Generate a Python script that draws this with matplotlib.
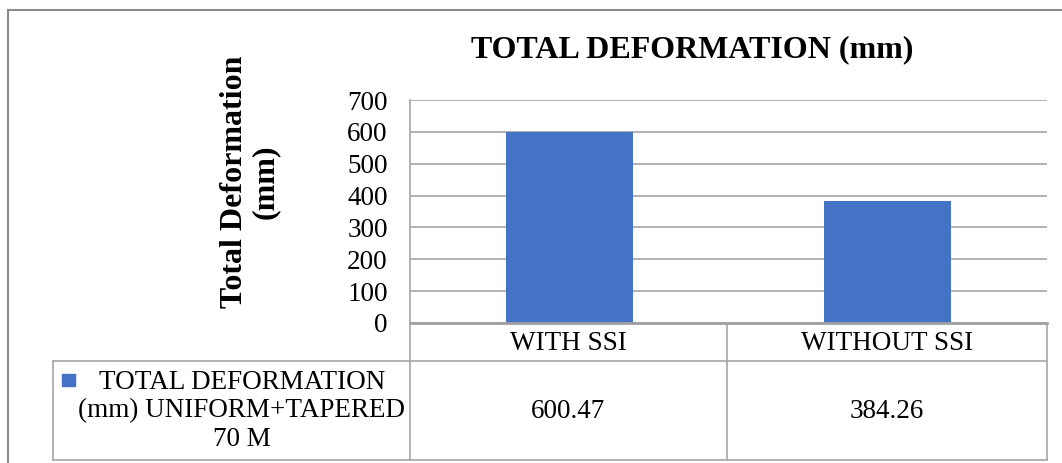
import matplotlib
matplotlib.use('Agg')
import matplotlib.pyplot as plt
from matplotlib.lines import Line2D
from matplotlib.patches import Rectangle

plt.rcParams['font.family'] = ['Liberation Serif', 'DejaVu Serif']

categories = ['WITH SSI', 'WITHOUT SSI']
values = [600.47, 384.26]
series_name = 'TOTAL DEFORMATION\n(mm) UNIFORM+TAPERED\n70 M'
title = 'TOTAL DEFORMATION (mm)'
ylabel = 'Total Deformation\n(mm)'
yticks = [0, 100, 200, 300, 400, 500, 600, 700]

W, H = 1062, 463
bar_color = '#4472C4'
grid_color = '#a6a6a6'
fs = 19.5

fig = plt.figure(figsize=(W / 100, H / 100), dpi=100)

def fx(px):
    return px / W

def fy(py):
    return 1 - py / H

# plot area in pixels
x0, x1, y0, y1 = 410, 1047, 100, 323
ax = fig.add_axes([fx(x0), fy(y1), fx(x1) - fx(x0), fy(y0) - fy(y1)])
ax.bar(range(len(values)), values, width=0.4, color=bar_color, zorder=3)
ax.set_xlim(-0.5, len(values) - 0.5)
ax.set_ylim(0, 700)
ax.set_yticks(yticks)
ax.set_xticks([])
ax.tick_params(axis='y', length=0, labelsize=fs, pad=16)
ax.yaxis.grid(True, color=grid_color, linewidth=1.2, zorder=0)
for s in ['top', 'right']:
    ax.spines[s].set_visible(False)
ax.spines['left'].set_color(grid_color)
ax.spines['left'].set_linewidth(1.2)
ax.spines['bottom'].set_color('#8c8c8c')
ax.spines['bottom'].set_linewidth(1.8)

fig.text(fx(692), fy(50), title, ha='center', va='center', fontsize=23, fontweight='bold')
fig.text(fx(250), fy(182), ylabel, ha='center', va='center', rotation=90,
         fontsize=23, fontweight='bold', linespacing=1.05)

# data table under the plot
col_edges = [x0, 727, x1]
row_top, row_mid, row_bot = 323, 361, 460
leg_left = 53

def hline(xa, xb, y):
    fig.add_artist(Line2D([fx(xa), fx(xb)], [fy(y), fy(y)], color=grid_color, lw=1.2))

def vline(x, ya, yb):
    fig.add_artist(Line2D([fx(x), fx(x)], [fy(ya), fy(yb)], color=grid_color, lw=1.2))

hline(x0, x1, row_top)
hline(leg_left, x1, row_mid)
hline(leg_left, x1, row_bot)
for x in col_edges:
    vline(x, row_top, row_bot)
vline(leg_left, row_mid, row_bot)

for i, (c, v) in enumerate(zip(categories, values)):
    cx = (col_edges[i] + col_edges[i + 1]) / 2
    fig.text(fx(cx), fy(343), c, ha='center', va='center', fontsize=fs)
    fig.text(fx(cx), fy(411), f'{v:.2f}', ha='center', va='center', fontsize=fs)

fig.add_artist(Rectangle((fx(62), fy(386)), fx(13), fy(374) - fy(386), color=bar_color))
fig.text(fx(242), fy(411), series_name, ha='center', va='center', fontsize=fs,
         linespacing=1.2)

# outer chart border
fig.add_artist(Line2D([fx(8), fx(8)], [fy(463), fy(10)], color='#8c8c8c', lw=1.5))
fig.add_artist(Line2D([fx(8), fx(1062)], [fy(10), fy(10)], color='#8c8c8c', lw=1.5))

fig.savefig('out.png', dpi=100, facecolor='white')
